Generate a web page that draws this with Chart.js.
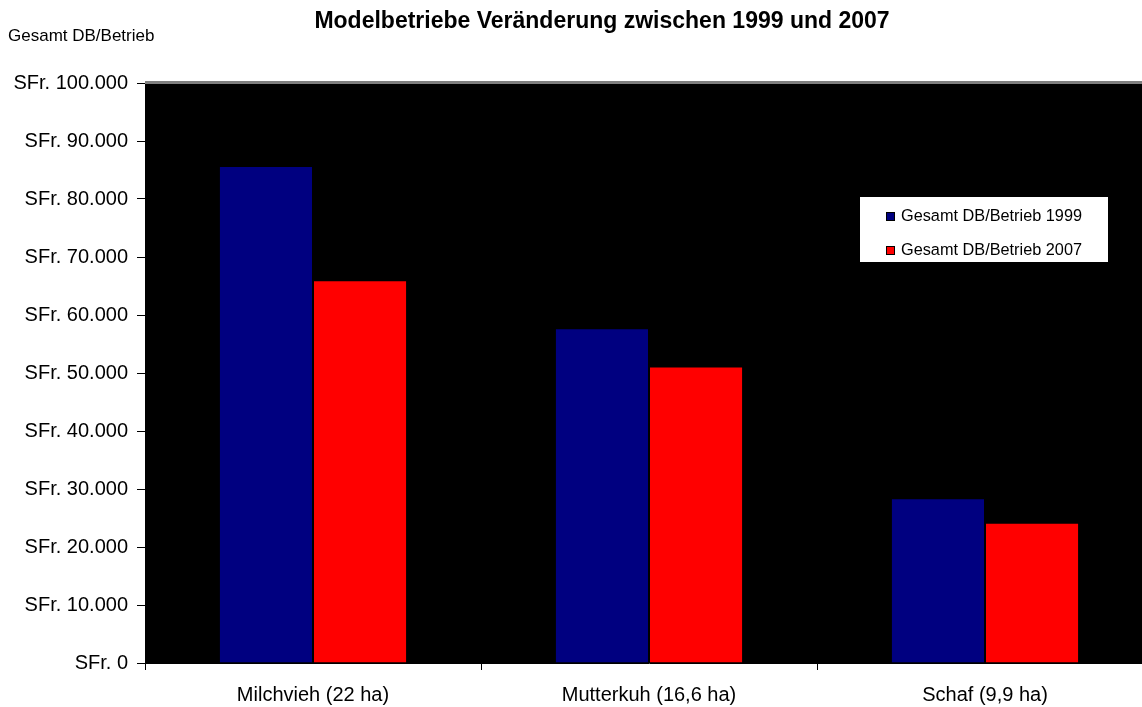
<!DOCTYPE html>
<html>
<head>
<meta charset="utf-8">
<script src="https://cdn.jsdelivr.net/npm/chart.js@4/dist/chart.umd.min.js"></script>
<style>
  html, body { margin: 0; padding: 0; background: #fff; overflow: hidden; }
  #wrap { width: 1160px; height: 707px; }
</style>
</head>
<body>
<div id="wrap"><canvas id="barChart" width="1160" height="707"></canvas></div>
<script>
// Daten
var kategorien = ['Milchvieh (22 ha)', 'Mutterkuh (16,6 ha)', 'Schaf (9,9 ha)'];
var werte1999 = [85700, 57700, 28400];
var werte2007 = [66000, 51100, 24200];
var serienNamen = ['Gesamt DB/Betrieb 1999', 'Gesamt DB/Betrieb 2007'];
var titelText = 'Modelbetriebe Veränderung zwischen 1999 und 2007';
var achsenTitel = 'Gesamt DB/Betrieb';

function sfr(v) {
  return 'SFr. ' + String(v).replace(/\B(?=(\d{3})+(?!\d))/g, '.');
}

// Hintergrund, Titel und Legende zeichnen
var deko = {
  id: 'deko',
  beforeDraw: function (chart) {
    var ctx = chart.ctx, a = chart.chartArea;
    ctx.save();
    ctx.fillStyle = '#000';
    ctx.fillRect(a.left, a.top, a.right - a.left, a.bottom - a.top);
    ctx.restore();
  },
  afterDraw: function (chart) {
    var ctx = chart.ctx, a = chart.chartArea;
    ctx.save();
    // graue Linie oben
    ctx.strokeStyle = '#808080';
    ctx.lineWidth = 3;
    ctx.beginPath();
    ctx.moveTo(a.left, a.top - 0.5);
    ctx.lineTo(a.right, a.top - 0.5);
    ctx.stroke();

    ctx.fillStyle = '#000';
    ctx.textBaseline = 'middle';
    ctx.font = 'bold 23px "Liberation Sans", Arial, sans-serif';
    ctx.textAlign = 'center';
    ctx.fillText(titelText, 602, 22);
    ctx.font = '17px "Liberation Sans", Arial, sans-serif';
    ctx.textAlign = 'left';
    ctx.fillText(achsenTitel, 8, 36);

    // Legende
    ctx.fillStyle = '#fff';
    ctx.fillRect(860, 197, 248, 65);
    ctx.font = '16.3px "Liberation Sans", Arial, sans-serif';
    var ys = [217, 251];
    chart.data.datasets.forEach(function (ds, i) {
      ctx.fillStyle = ds.backgroundColor;
      ctx.fillRect(886, ys[i] - 5, 9, 9);
      ctx.strokeStyle = '#000';
      ctx.lineWidth = 1;
      ctx.strokeRect(886.5, ys[i] - 4.5, 8, 8);
      ctx.fillStyle = '#000';
      ctx.fillText(ds.label, 901, ys[i]);
    });
    ctx.restore();
  }
};

new Chart(document.getElementById('barChart'), {
  type: 'bar',
  data: {
    labels: kategorien,
    datasets: [
      { label: serienNamen[0], data: werte1999, backgroundColor: '#000080', borderColor: '#000', borderWidth: 1 },
      { label: serienNamen[1], data: werte2007, backgroundColor: '#ff0000', borderColor: '#000', borderWidth: 1 }
    ]
  },
  options: {
    responsive: false,
    animation: false,
    layout: { padding: { top: 83, right: 7, left: 0, bottom: 0 } },
    categoryPercentage: 0.56,
    barPercentage: 1,
    plugins: {
      legend: { display: false },
      title: { display: false },
      tooltip: { enabled: false }
    },
    scales: {
      x: {
        afterFit: function (s) { s.height = 44; },
        grid: { offset: true, drawOnChartArea: false, tickLength: 7, color: '#000' },
        border: { color: '#000' },
        ticks: { color: '#000', padding: 13, font: { family: '"Liberation Sans", Arial', size: 20 } }
      },
      y: {
        min: 0,
        max: 100000,
        afterFit: function (s) { s.width = 145; },
        grid: { drawOnChartArea: false, tickLength: 8, color: '#000' },
        border: { color: '#000' },
        ticks: {
          stepSize: 10000,
          color: '#000',
          padding: 9,
          font: { family: '"Liberation Sans", Arial', size: 20 },
          callback: function (v) { return sfr(v); }
        }
      }
    }
  },
  plugins: [deko]
});
</script>
</body>
</html>
